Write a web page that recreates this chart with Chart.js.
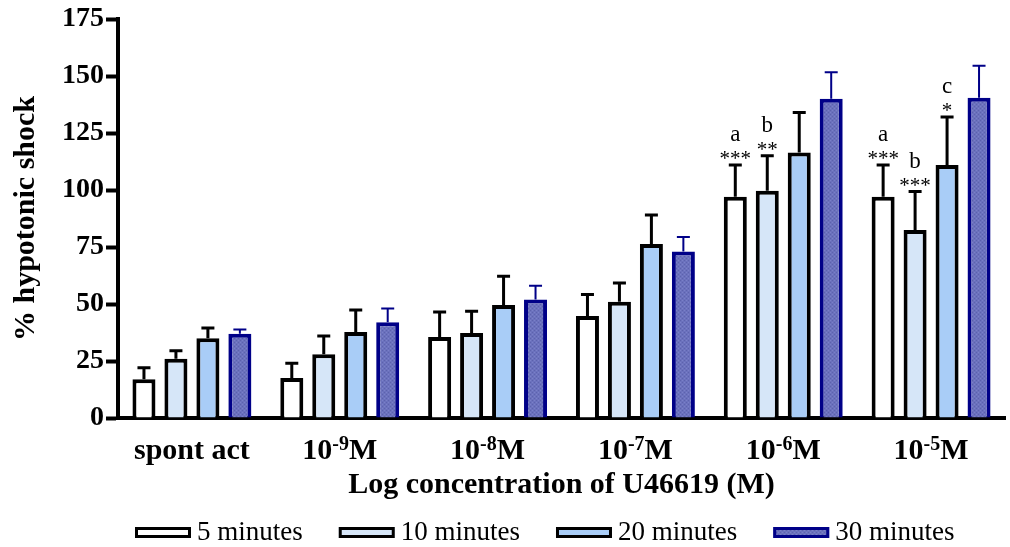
<!DOCTYPE html>
<html>
<head>
<meta charset="utf-8">
<script src="https://cdn.jsdelivr.net/npm/chart.js@4/dist/chart.umd.min.js"></script>
<style>
  html, body { margin: 0; padding: 0; background: #fff; }
  #wrap { width: 1010px; height: 547px; position: relative; }
</style>
</head>
<body>
<div id="wrap"><canvas id="barChart"></canvas></div>
<script>
const categories = ['spont act', '-9', '-8', '-7', '-6', '-5'];
const seriesNames = ['5 minutes', '10 minutes', '20 minutes', '30 minutes'];

const mean5 = [17, 17.5, 35.5, 44.7, 97, 97];
const mean10 = [26, 28, 37.3, 51, 99.7, 82.5];
const mean20 = [35, 37.7, 49.6, 76.3, 116.4, 111];
const mean30 = [37, 42, 52, 73, 140, 140.5];

const sem5 = [5, 6.5, 11, 9.5, 14, 14];
const sem10 = [3.5, 8, 9.5, 8.2, 15.3, 16.8];
const sem20 = [4.5, 9.7, 12.6, 12.7, 17.6, 21];
const sem30 = [1.8, 6, 6, 6.4, 11.6, 14];

// significance marks: [series index, category index, star text, letter]
const marks = [
    [0, 4, '***', 'a'],
    [1, 4, '**', 'b'],
    [0, 5, '***', 'a'],
    [1, 5, '***', 'b'],
    [2, 5, '*', 'c'],
];

const yTicks = [0, 25, 50, 75, 100, 125, 150, 175];

document.addEventListener('DOMContentLoaded', function () {
    const ctx = document.getElementById('barChart').getContext('2d');

    // hatched fill for the 30 minute bars
    const pc = document.createElement('canvas');
    pc.width = 4; pc.height = 4;
    const p = pc.getContext('2d');
    p.fillStyle = '#6b71bd';
    p.fillRect(0, 0, 4, 4);
    p.fillStyle = '#5c62ad';
    p.fillRect(0, 0, 1, 1);
    p.fillRect(2, 2, 1, 1);
    p.fillStyle = '#7a80c8';
    p.fillRect(2, 0, 1, 1);
    p.fillRect(0, 2, 1, 1);
    const hatch = ctx.createPattern(pc, 'repeat');

    const means = [mean5, mean10, mean20, mean30];
    const sems = [sem5, sem10, sem20, sem30];
    const fills = ['#ffffff', '#d6e6f8', '#a9cdf7', hatch];
    const borders = ['#000000', '#000000', '#000000', '#000088'];

    const serif = "'Liberation Serif', 'Times New Roman', serif";

    const errorBars = {
        id: 'errorBars',
        afterDatasetsDraw(chart) {
            const c = chart.ctx;
            const y = chart.scales.y;
            c.save();
            chart.data.datasets.forEach((ds, di) => {
                const meta = chart.getDatasetMeta(di);
                meta.data.forEach((bar, i) => {
                    const top = y.getPixelForValue(means[di][i] + sems[di][i]);
                    const base = y.getPixelForValue(means[di][i]);
                    c.strokeStyle = borders[di];
                    c.lineWidth = di === 3 ? 2 : 3;
                    c.beginPath();
                    c.moveTo(bar.x, base);
                    c.lineTo(bar.x, top);
                    c.moveTo(bar.x - 6.5, top);
                    c.lineTo(bar.x + 6.5, top);
                    c.stroke();
                });
            });
            // significance marks
            c.fillStyle = '#000';
            c.textAlign = 'center';
            c.textBaseline = 'alphabetic';
            marks.forEach(([di, i, stars, letter]) => {
                const bar = chart.getDatasetMeta(di).data[i];
                const top = y.getPixelForValue(means[di][i] + sems[di][i]);
                c.font = '21px ' + serif;
                c.fillText(stars, bar.x, top);
                c.font = '23px ' + serif;
                c.fillText(letter, bar.x, top - 24);
            });
            c.restore();
        }
    };

    const xLabels = {
        id: 'xLabels',
        afterDraw(chart) {
            const c = chart.ctx;
            const x = chart.scales.x;
            const yBase = chart.chartArea.bottom + 41;
            c.save();
            c.fillStyle = '#000';
            c.textBaseline = 'alphabetic';
            categories.forEach((cat, i) => {
                const cx = x.getPixelForValue(i);
                if (cat === 'spont act') {
                    c.font = 'bold 30px ' + serif;
                    c.textAlign = 'center';
                    c.fillText(cat, cx, yBase);
                    return;
                }
                const big = 'bold 30px ' + serif;
                const small = 'bold 20px ' + serif;
                c.font = big;
                const w10 = c.measureText('10').width;
                const wM = c.measureText('M').width;
                c.font = small;
                const wExp = c.measureText(cat).width;
                const left = cx - (w10 + wExp + wM) / 2;
                c.textAlign = 'left';
                c.font = big;
                c.fillText('10', left, yBase);
                c.font = small;
                c.fillText(cat, left + w10, yBase - 9);
                c.font = big;
                c.fillText('M', left + w10 + wExp, yBase);
            });
            c.restore();
        }
    };

    const bottomLegend = {
        id: 'bottomLegend',
        afterDraw(chart) {
            const c = chart.ctx;
            c.save();
            c.font = '27px ' + serif;
            c.textAlign = 'left';
            c.textBaseline = 'alphabetic';
            let left = 135;
            chart.data.datasets.forEach((ds) => {
                c.fillStyle = ds.backgroundColor;
                c.fillRect(left, 527, 56, 11);
                c.strokeStyle = ds.borderColor;
                c.lineWidth = 3;
                c.strokeRect(left + 1.5, 528.5, 53, 8);
                c.fillStyle = '#000';
                c.fillText(ds.label, left + 62, 540);
                left += 62 + c.measureText(ds.label).width + 36;
            });
            c.restore();
        }
    };

    const barChart = new Chart(ctx, {
        type: 'bar',
        data: {
            labels: categories,
            datasets: seriesNames.map((name, di) => ({
                label: name,
                data: means[di],
                backgroundColor: fills[di],
                borderColor: borders[di],
                borderWidth: 4,
                borderSkipped: 'bottom',
                barPercentage: 0.72,
                categoryPercentage: 0.865,
            })),
        },
        options: {
            responsive: true,
            maintainAspectRatio: false,
            animation: false,
            layout: { padding: { top: 19, right: 5, left: 0, bottom: 0 } },
            plugins: {
                tooltip: { enabled: false },
                legend: { display: false },
            },
            scales: {
                x: {
                    grid: { display: false, drawTicks: false },
                    border: { display: true, width: 4, color: '#000' },
                    ticks: { display: false },
                    title: {
                        display: true,
                        text: 'Log concentration of U46619 (M)',
                        color: '#000',
                        font: { family: serif, size: 30, weight: 'bold' },
                        padding: { top: 0, bottom: 44 },
                    },
                    afterFit(scale) { scale.height = 129; },
                },
                y: {
                    min: 0,
                    max: 175,
                    afterBuildTicks(scale) {
                        scale.ticks = yTicks.map(v => ({ value: v }));
                    },
                    grid: {
                        drawOnChartArea: false,
                        drawTicks: true,
                        tickLength: 12,
                        tickWidth: 4,
                        tickColor: '#000',
                    },
                    border: { display: true, width: 4, color: '#000' },
                    ticks: {
                        color: '#000',
                        padding: 2,
                        font: { family: serif, size: 28, weight: 'bold' },
                    },
                    title: {
                        display: true,
                        text: '% hypotonic shock',
                        color: '#000',
                        font: { family: serif, size: 30, weight: 'bold' },
                        padding: { top: 8, bottom: 0 },
                    },
                    afterFit(scale) { scale.width = 118; },
                },
            },
        },
        plugins: [errorBars, xLabels, bottomLegend],
    });
});
</script>
</body>
</html>
